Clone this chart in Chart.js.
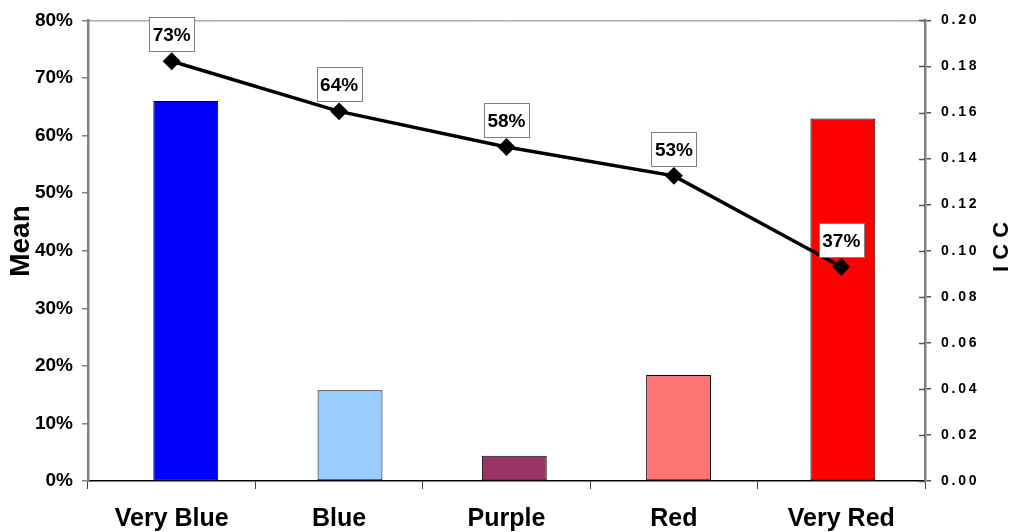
<!DOCTYPE html>
<html>
<head>
<meta charset="utf-8">
<script src="https://cdn.jsdelivr.net/npm/chart.js@4/dist/chart.umd.min.js"></script>
<style>
  html,body{margin:0;padding:0;background:#fff;}
  #wrap{width:1012px;height:532px;}
</style>
</head>
<body>
<div id="wrap"><canvas id="chart" width="1012" height="532"></canvas></div>
<script>
// Data
const categories = ['Very Blue','Blue','Purple','Red','Very Red'];
const meanValues = [72.9, 64.2, 58.0, 53.0, 37.2];          // % (left axis, line)
const iccValues  = [0.165, 0.0394, 0.0110, 0.0460, 0.1574]; // ICC (right axis, bars)
const barColors  = ['#0000FF','#99CCFF','#993366','#FF7575','#FF0000'];
const meanTitle = 'Mean';
const iccTitle = 'I C C';

const FONT = '"Liberation Sans", Arial, sans-serif';

// Extra drawing: top frame line, crossing ticks on the right axis, value boxes, axis titles
const decor = {
  id:'decor',
  beforeDatasetsDraw(chart){
    const {ctx,chartArea:a} = chart;
    ctx.save();
    ctx.strokeStyle='#808080'; ctx.lineWidth=1;
    ctx.beginPath(); ctx.moveTo(a.left,a.top+0.5); ctx.lineTo(a.right,a.top+0.5); ctx.stroke();
    const s=chart.scales.y2;
    ctx.strokeStyle='#555'; ctx.lineWidth=1.5;
    s.ticks.forEach(t=>{
      const y=Math.round(s.getPixelForValue(t.value))+0.5;
      ctx.beginPath(); ctx.moveTo(a.right-6,y); ctx.lineTo(a.right,y); ctx.stroke();
    });
    ctx.restore();
  },
  afterDatasetsDraw(chart){
    const {ctx} = chart;
    const meta = chart.getDatasetMeta(0);
    ctx.save();
    ctx.font='bold 19px '+FONT;
    ctx.textAlign='center'; ctx.textBaseline='middle';
    meta.data.forEach((p,i)=>{
      const w=45,h=34;
      const x=Math.round(p.x-w/2)+0.5, y=Math.round(p.y-10-h)+0.5;
      ctx.fillStyle='#fff'; ctx.fillRect(x,y,w,h);
      ctx.strokeStyle='#808080'; ctx.lineWidth=1; ctx.strokeRect(x,y,w,h);
      ctx.fillStyle='#000';
      ctx.fillText(Math.round(meanValues[i])+'%',p.x,y+h/2+1);
    });
    ctx.restore();
  },
  afterDraw(chart){
    const {ctx} = chart;
    ctx.save();
    ctx.fillStyle='#000'; ctx.textAlign='center'; ctx.textBaseline='middle';
    ctx.font='bold 28px '+FONT;
    ctx.translate(21,241); ctx.rotate(-Math.PI/2); ctx.fillText(meanTitle,0,0);
    ctx.restore();
    ctx.save();
    ctx.fillStyle='#000'; ctx.textAlign='center'; ctx.textBaseline='middle';
    ctx.font='bold 22px '+FONT;
    ctx.translate(1002,247); ctx.rotate(-Math.PI/2); ctx.fillText(iccTitle,0,0);
    ctx.restore();
  }
};

new Chart(document.getElementById('chart').getContext('2d'),{
  type:'bar',
  data:{
    labels:categories,
    datasets:[
      {type:'line',label:'Mean',data:meanValues,xAxisID:'x',yAxisID:'y',order:0,
       borderColor:'#000',borderWidth:3.5,backgroundColor:'#000',
       pointStyle:'rectRot',pointRadius:6.5,pointBackgroundColor:'#000',pointBorderColor:'#000',
       tension:0,fill:false},
      {type:'bar',label:'ICC',data:iccValues.map((v,i)=>({x:i,y:v})),xAxisID:'xb',yAxisID:'y2',order:1,
       backgroundColor:barColors,borderColor:'#000',borderWidth:1,borderSkipped:false,
       grouped:false,categoryPercentage:1,barPercentage:0.395}
    ]
  },
  options:{
    responsive:false,animation:false,devicePixelRatio:1,
    layout:{padding:{top:16,left:0,right:0,bottom:0}},
    plugins:{legend:{display:false},tooltip:{enabled:false}},
    scales:{
      x:{type:'category',position:'bottom',offset:true,
         grid:{display:true,offset:true,drawOnChartArea:false,tickLength:8,color:'#444',lineWidth:1},
         border:{display:true,color:'#000',width:1.5},
         ticks:{color:'#000',font:{family:FONT,size:25,weight:'bold'},padding:15,maxRotation:0},
         afterFit(s){s.height=51;}},
      xb:{type:'linear',display:false,offset:false,min:-0.595,max:4.5,grid:{offset:false},
          ticks:{stepSize:1,includeBounds:false}},
      y:{position:'left',min:0,max:80,
         ticks:{stepSize:10,color:'#000',font:{family:FONT,size:19,weight:'bold'},padding:9,callback:v=>v+'%'},
         grid:{display:true,drawOnChartArea:false,tickLength:6,color:'#808080',lineWidth:1.5},
         border:{display:true,color:'#808080',width:2.5},
         afterFit(s){s.width=88;}},
      y2:{position:'right',min:0,max:0.2,
         ticks:{stepSize:0.02,color:'#000',font:{family:FONT,size:14,weight:'bold'},padding:10,
                callback:v=>v.toFixed(2).split('').join('\u2009')},
         grid:{display:true,drawOnChartArea:false,tickLength:6,color:'#555',lineWidth:1.5},
         border:{display:true,color:'#808080',width:2.5},
         afterFit(s){s.width=87;}}
    }
  },
  plugins:[decor]
});
</script>
</body>
</html>
